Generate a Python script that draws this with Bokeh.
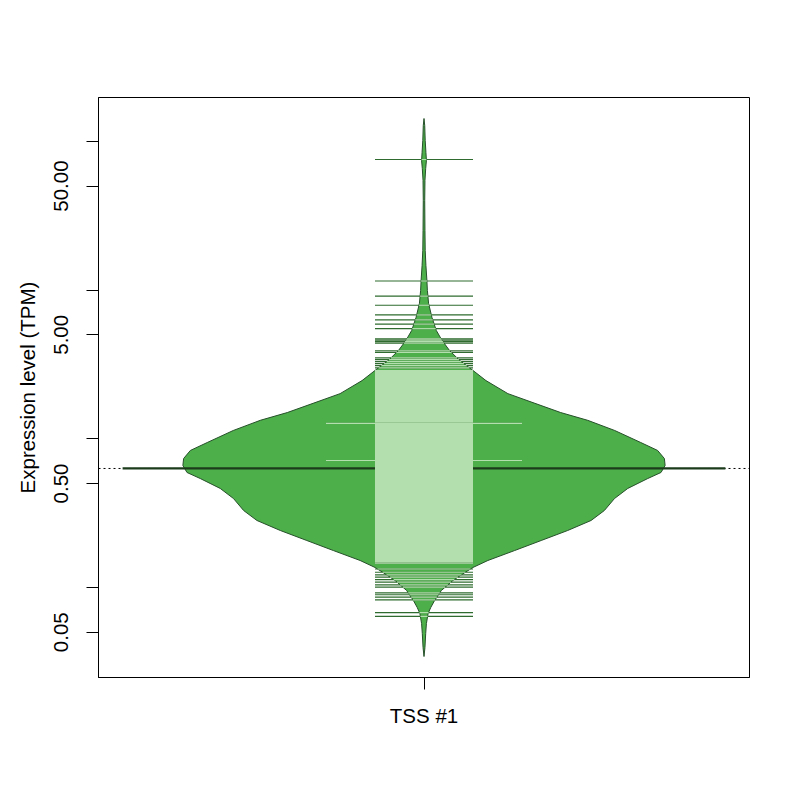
import numpy as np
from bokeh.plotting import figure
from bokeh.models import Range1d, FixedTicker, CustomJSTickFormatter
from bokeh.embed import file_html
from bokeh.resources import INLINE

# ---------------- data ----------------
category = "TSS #1"
y_title = "Expression level (TPM)"
ytick_values = [0.05, 0.1, 0.5, 1, 5, 10, 50, 100]
ytick_labels = ["0.05", "", "0.50", "", "5.00", "", "50.00", ""]

# bean outline: expression value (TPM) and relative density (1 = widest)
bean_tpm = [142.4, 127.8, 101.3, 84.1, 74.3, 65.7, 54.5, 40.0, 25.1, 18.45,
            14.6, 11.6, 9.93, 8.12, 6.54, 5.35, 4.58, 3.92, 3.36, 2.88,
            2.46, 2.01, 1.73, 1.50, 1.33, 1.136, 0.943, 0.834, 0.736, 0.661,
            0.593, 0.540, 0.463, 0.396, 0.329, 0.282, 0.2415, 0.2068, 0.1771, 0.1518,
            0.1362, 0.126, 0.1114, 0.0954, 0.0817, 0.0733, 0.0668, 0.0572, 0.0490, 0.0395,
            0.0343]
bean_density = [0.0, 0.003, 0.005, 0.008, 0.010, 0.007, 0.004, 0.003, 0.004, 0.005,
                0.008, 0.012, 0.014, 0.019, 0.033, 0.051, 0.075, 0.106, 0.148, 0.203,
                0.257, 0.348, 0.460, 0.567, 0.679, 0.791, 0.899, 0.969, 0.997, 1.0,
                0.983, 0.928, 0.845, 0.790, 0.748, 0.693, 0.596, 0.486, 0.376, 0.265,
                0.203, 0.170, 0.120, 0.072, 0.044, 0.028, 0.017, 0.010, 0.007, 0.004,
                0.0]

bean_mean = 0.631          # bean average (geometric mean)
overall_mean = 0.631       # overall average line

# densely packed observations (lines merge into a solid band)
dense_low = 0.145
dense_high = 2.9

# individually visible observations
single_obs = [75.5, 11.5, 9.1, 7.9, 6.8, 6.3, 5.9, 5.5, 4.7, 4.6, 4.5, 4.4,
              3.9, 3.8, 3.5, 3.4, 3.3, 3.2, 3.1, 3.0,
              0.1455, 0.133, 0.1265, 0.1216, 0.1172, 0.113, 0.1084, 0.1042,
              0.1004, 0.092, 0.0893, 0.086, 0.0826, 0.0678, 0.0638]
# observations occurring twice (drawn as longer lines)
double_obs = [1.27, 0.714]

# ---------------- styling ----------------
FONT = "Liberation Sans"
FILL = "#4daf4a"
INSIDE = "#b3deae"
OUTSIDE = "#2f6b2f"
AVG = "#1b3b1b"
BORDER = "#26502a"

center = 1.0
bean_half = 0.4
line_half = 0.0813
avg_half = 0.5

p = figure(frame_width=651, frame_height=580,
           x_range=Range1d(0.46, 1.54),
           y_range=Range1d(10 ** -1.6057, 10 ** 2.2948),
           y_axis_type="log",
           output_backend="svg", toolbar_location=None,
           min_border_left=98, min_border_top=97,
           min_border_right=40, min_border_bottom=110,
           background_fill_color="white", border_fill_color="white")
p.grid.visible = False
p.outline_line_color = "black"
p.outline_line_width = 1
p.outline_line_alpha = 1

# overall average dotted line
p.line([0.46, 1.54], [overall_mean, overall_mean], line_color="black",
       line_width=1, line_dash="2 3")

# bean polygon
bt = np.array(bean_tpm)
bd = np.array(bean_density)
px = np.concatenate([center - bean_half * bd, (center + bean_half * bd)[::-1]])
py = np.concatenate([bt, bt[::-1]])
p.patch(px, py, fill_color=FILL, line_color=BORDER, line_width=1)

# bean average line
p.line([center - avg_half, center + avg_half], [bean_mean, bean_mean],
       line_color=AVG, line_width=2.2)

# bean width at a value
order = np.argsort(np.log10(bt))
def bean_width(v):
    return bean_half * np.interp(np.log10(v), np.log10(bt)[order], bd[order])

# dense band
p.quad(left=center - line_half, right=center + line_half,
       bottom=dense_low, top=dense_high, fill_color=INSIDE, line_color=None)

# beanlines
vals = np.array(single_obs + double_obs)
halves = np.array([line_half] * len(single_obs) + [2 * line_half] * len(double_obs))
p.segment(x0=center - halves, x1=center + halves, y0=vals, y1=vals,
          line_color=OUTSIDE, line_width=1.2)
inner = np.minimum(halves, np.array([bean_width(v) for v in vals]))
p.segment(x0=center - inner, x1=center + inner, y0=vals, y1=vals,
          line_color=INSIDE, line_width=1.2)

# axes
xa = p.xaxis[0]
xa.ticker = FixedTicker(ticks=[center])
xa.formatter = CustomJSTickFormatter(args=dict(lab=category),
                                     code="return Math.abs(tick - 1) < 1e-9 ? lab : '';")
ya = p.yaxis[0]
ya.ticker = FixedTicker(ticks=ytick_values)
ya.formatter = CustomJSTickFormatter(
    args=dict(vals=ytick_values, labs=ytick_labels),
    code="""
for (let i = 0; i < vals.length; i++) {
  if (Math.abs(tick - vals[i]) / vals[i] < 1e-6) return labs[i];
}
return '';
""")
ya.axis_label = y_title
ya.major_label_orientation = "vertical"

for ax in (xa, ya):
    ax.axis_line_color = "black"
    ax.major_tick_line_color = "black"
    ax.major_tick_out = 12
    ax.major_tick_in = 0
    ax.minor_tick_line_color = None
    ax.major_label_text_font = FONT
    ax.major_label_text_font_size = "20.5px"
    ax.major_label_text_color = "black"
    ax.axis_label_text_font = FONT
    ax.axis_label_text_font_size = "20.5px"
    ax.axis_label_text_font_style = "normal"
    ax.axis_label_text_color = "black"

xa.major_label_standoff = 14
ya.major_label_standoff = 18
ya.axis_label_standoff = 13

open("out.html", "w").write(file_html(p, INLINE))
